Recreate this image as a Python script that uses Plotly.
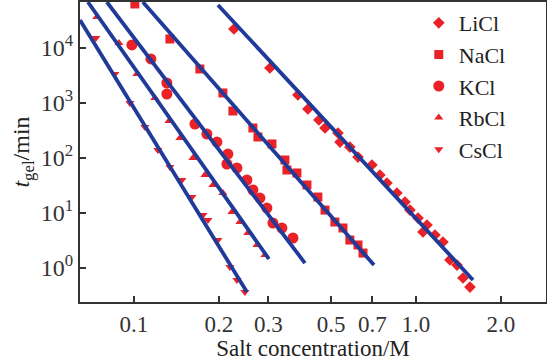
import plotly.graph_objects as go

# ---- data (salt concentration in M, gelation time in min) ----
licl_c = [0.2263, 0.3036, 0.3815, 0.414, 0.4529, 0.476, 0.529, 0.538, 0.583, 0.623, 0.698, 0.745,
          0.789, 0.856, 0.914, 0.952, 1.017, 1.094, 1.059, 1.168, 1.246, 1.32, 1.398, 1.468, 1.554]
licl_t = [22150, 4330, 1400, 778, 491, 351, 285, 195, 158, 104, 74.6, 49.1,
          35.1, 23.1, 15.8, 11.3, 8.1, 6.05, 4.51, 3.98, 2.97, 1.40, 1.13, 0.658, 0.451]

nacl_c = [0.1008, 0.1342, 0.1714, 0.2068, 0.2244, 0.2642, 0.2753, 0.3086, 0.3431, 0.3488, 0.3784,
          0.4107, 0.449, 0.476, 0.516, 0.551, 0.583, 0.623, 0.649]
nacl_t = [63100, 14570, 4150, 1520, 715, 351, 241, 180, 92, 60.5, 53.4,
          32.3, 19.5, 11.3, 6.86, 5.34, 3.23, 2.62, 1.87]

kcl_c = [0.0984, 0.1149, 0.1309, 0.1309, 0.1646, 0.1815, 0.197, 0.2154, 0.2137, 0.2319, 0.2516,
         0.2642, 0.2798, 0.2962, 0.3111, 0.3348, 0.3663]
kcl_t = [11340, 6310, 2310, 1457, 415, 273, 195, 118, 77.8, 65.8, 39.8,
         26.2, 18.7, 12.3, 6.58, 5.34, 3.51]

rbcl_c = [0.0739, 0.0885, 0.1025, 0.1187, 0.1331, 0.1456, 0.1619, 0.1786, 0.1906, 0.2068, 0.2226,
          0.2376, 0.2536, 0.2731, 0.2914]
rbcl_t = [36600, 12330, 3370, 1233, 471, 231, 100, 49.1, 32.3, 23.1, 10.4,
          6.86, 4.33, 2.62, 1.72]

cscl_c = [0.0733, 0.0856, 0.0968, 0.1094, 0.1216, 0.1342, 0.148, 0.1606, 0.1757, 0.183, 0.1986,
          0.219, 0.2319, 0.2475]
cscl_t = [15200, 3370, 1000, 366, 140, 68.6, 39.8, 19.5, 9.2, 7.46, 3.23,
          1.04, 0.605, 0.366]

# fitted lines: start/end (concentration, time)
fit_names = ["LiCl", "NaCl", "KCl", "RbCl", "CsCl"]
fit_c0 = [0.1986, 0.1076, 0.0802, 0.0687, 0.0644]
fit_c1 = [1.593, 0.71, 0.404, 0.3011, 0.2516]
fit_t0 = [60500, 68500, 68500, 68500, 32300]
fit_t1 = [0.605, 1.13, 1.23, 1.46, 0.366]

x_tickvals = [0.1, 0.2, 0.3, 0.5, 0.7, 1.0, 2.0]
x_ticktext = ["0.1", "0.2", "0.3", "0.5", "0.7", "1.0", "2.0"]
y_tickvals = [1, 10, 100, 1000, 10000]
y_ticktext = ["10<sup>0</sup>", "10<sup>1</sup>", "10<sup>2</sup>", "10<sup>3</sup>", "10<sup>4</sup>"]

RED = "#ea2228"
BLUE = "#1f3a98"
FONT = "Liberation Serif"

series = [
    ("LiCl", licl_c, licl_t, "diamond", 9),
    ("NaCl", nacl_c, nacl_t, "square", 9),
    ("KCl", kcl_c, kcl_t, "circle", 11),
    ("RbCl", rbcl_c, rbcl_t, "triangle-up", 8),
    ("CsCl", cscl_c, cscl_t, "triangle-down", 8),
]

fig = go.Figure()
for name, xs, ys, sym, sz in series:
    fig.add_trace(go.Scatter(x=xs, y=ys, mode="markers", name=name,
                             marker=dict(symbol=sym, size=sz, color=RED, line=dict(width=0))))

for i in range(len(fit_names)):
    fig.add_trace(go.Scatter(x=[fit_c0[i], fit_c1[i]], y=[fit_t0[i], fit_t1[i]], mode="lines",
                             line=dict(color=BLUE, width=3.8), showlegend=False, hoverinfo="skip"))

fig.update_layout(
    width=547, height=361,
    margin=dict(l=80, r=1, t=2, b=59, autoexpand=False),
    paper_bgcolor="white", plot_bgcolor="white",
    font=dict(family=FONT, size=22, color="#222"),
    legend=dict(x=0.727, y=1.0, xanchor="left", yanchor="top", bgcolor="rgba(0,0,0,0)",
                font=dict(family=FONT, size=22, color="#222"), itemwidth=30, tracegroupgap=3),
    showlegend=True,
)
fig.update_xaxes(type="log", range=[-1.191, 0.461], tickvals=x_tickvals, ticktext=x_ticktext,
                 ticks="inside", ticklen=6, tickwidth=1.5, tickcolor="#333",
                 showline=True, linecolor="#333", linewidth=2, mirror=True,
                 showgrid=False, zeroline=False, automargin=False,
                 tickfont=dict(family=FONT, size=23, color="#333"),
                 title=dict(text="Salt concentration/M", font=dict(family=FONT, size=23, color="#222"), standoff=6))
fig.update_yaxes(type="log", range=[-0.618, 4.836], tickvals=y_tickvals, ticktext=y_ticktext,
                 ticks="inside", ticklen=6, tickwidth=1.5, tickcolor="#333",
                 showline=True, linecolor="#333", linewidth=2, mirror=True,
                 showgrid=False, zeroline=False, automargin=False,
                 tickfont=dict(family=FONT, size=24, color="#333"),
                 title=dict(text="<i>t</i><sub>gel</sub>/min", font=dict(family=FONT, size=24, color="#222"), standoff=4))

fig.write_html("out.html", config={"displayModeBar": False},
               post_script="document.body.style.margin='0';document.body.style.overflow='hidden';")
